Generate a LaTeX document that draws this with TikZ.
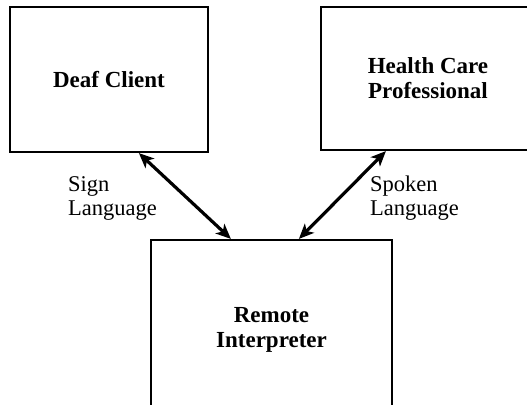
\documentclass[tikz,border=0pt]{standalone}
\usepackage{fontspec}
\setmainfont{Liberation Serif}
\usetikzlibrary{arrows.meta,calc}
\begin{document}
\begin{tikzpicture}[x=1pt,y=-1pt,
  box/.style={draw, line width=2.2pt, inner sep=0pt, align=center,
    font=\fontsize{23}{25}\selectfont\bfseries},
  lbl/.style={align=left, anchor=west, inner sep=0pt,
    font=\fontsize{22.5}{24}\selectfont},
  link/.style={line width=3.2pt,
    {Stealth[length=15pt,width=13pt,inset=4pt]}-{Stealth[length=15pt,width=13pt,inset=4pt]}}]
\useasboundingbox (0,0) rectangle (527,404);

% the three parties
\node[box, minimum width=198pt, minimum height=145pt] (deaf) at (109,79.5) {Deaf Client};
\node[box, minimum width=214pt, minimum height=143pt] (hcp) at (428,78.5) {Health Care\\Professional};
\node[box, minimum width=241pt, minimum height=180pt] (remote) at (271.5,330) {Remote\\Interpreter};

% attachment points on the box borders
\coordinate (d1) at ($(deaf.south west)+(130,0)$);
\coordinate (r1) at ($(remote.north west)+(81,0)$);
\coordinate (h1) at ($(hcp.south west)+(66,0)$);
\coordinate (r2) at ($(remote.north west)+(149,0)$);

% two-way communication links
\draw[link] (d1) -- (r1);
\draw[link] (h1) -- (r2);

% link labels
\node[lbl] (sign) at (68,198) {Sign\\Language};
\node[lbl] (spoken) at (370,198) {Spoken\\Language};
\end{tikzpicture}
\end{document}
